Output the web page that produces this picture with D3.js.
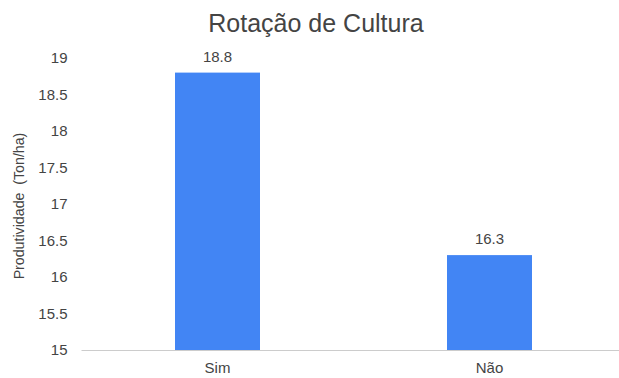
<!DOCTYPE html>
<html>
<head>
<meta charset="utf-8">
<script src="https://cdn.jsdelivr.net/npm/d3@7"></script>
<style>
  html, body { margin: 0; padding: 0; background: #fff; }
  svg { display: block; font-family: "Liberation Sans", Arial, sans-serif; }
</style>
</head>
<body>
<svg id="chart" width="619" height="378"></svg>
<script>
// Rotação de cultura: produtividade média (Ton/ha)
const categories = ["Sim", "Não"];
const values = [18.8, 16.3];
const yTicks = [15, 15.5, 16, 16.5, 17, 17.5, 18, 18.5, 19];

const svg = d3.select("#chart");
const W = 619, H = 378;
const margin = { left: 81.5, right: -6.5, top: 58, bottom: 28 };

const x = d3.scaleBand()
  .domain(categories)
  .range([margin.left, W - margin.right])
  .paddingInner(0.6875)
  .paddingOuter(0.34375);

const y = d3.scaleLinear()
  .domain([15, 19])
  .range([H - margin.bottom, margin.top]);

const textColor = "#444";
const labelSize = 15;

// Title
svg.append("text")
  .attr("x", 316)
  .attr("y", 32)
  .attr("text-anchor", "middle")
  .attr("font-size", 25)
  .attr("fill", textColor)
  .text("Rotação de Cultura");

// Y axis (labels only)
const yAxis = svg.append("g")
  .attr("transform", `translate(${margin.left - 14},0)`)
  .call(d3.axisLeft(y).tickValues(yTicks).tickSize(0).tickPadding(0).tickFormat(d3.format("")));
yAxis.select(".domain").remove();
yAxis.selectAll("text")
  .attr("font-size", labelSize)
  .attr("fill", textColor)
  .attr("font-family", "Liberation Sans, Arial, sans-serif");

// Y axis title
svg.append("text")
  .attr("transform", `translate(24,${(y(15) + y(19)) / 2 + 2}) rotate(-90)`)
  .attr("text-anchor", "middle")
  .attr("font-size", 14.2)
  .attr("fill", textColor)
  .style("white-space", "pre")
  .text("Produtividade  (Ton/ha)");

// Bars
svg.selectAll("rect.bar")
  .data(categories)
  .join("rect")
  .attr("class", "bar")
  .attr("x", d => x(d))
  .attr("width", x.bandwidth())
  .attr("y", (d, i) => y(values[i]))
  .attr("height", (d, i) => y(15) - y(values[i]))
  .attr("fill", "#4285f4");

// Baseline
svg.append("line")
  .attr("x1", margin.left)
  .attr("x2", W)
  .attr("y1", y(15) + 0.5)
  .attr("y2", y(15) + 0.5)
  .attr("stroke", "#ccc")
  .attr("stroke-width", 1);

// Value labels
svg.selectAll("text.val")
  .data(categories)
  .join("text")
  .attr("class", "val")
  .attr("x", d => x(d) + x.bandwidth() / 2)
  .attr("y", (d, i) => y(values[i]) - 11)
  .attr("text-anchor", "middle")
  .attr("font-size", labelSize)
  .attr("fill", textColor)
  .text((d, i) => values[i].toFixed(1));

// X axis (category labels)
const xAxis = svg.append("g")
  .attr("transform", `translate(0,${y(15)})`)
  .call(d3.axisBottom(x).tickSize(0).tickPadding(12));
xAxis.select(".domain").remove();
xAxis.selectAll("text")
  .attr("font-size", labelSize)
  .attr("fill", textColor)
  .attr("font-family", "Liberation Sans, Arial, sans-serif");
</script>
</body>
</html>
